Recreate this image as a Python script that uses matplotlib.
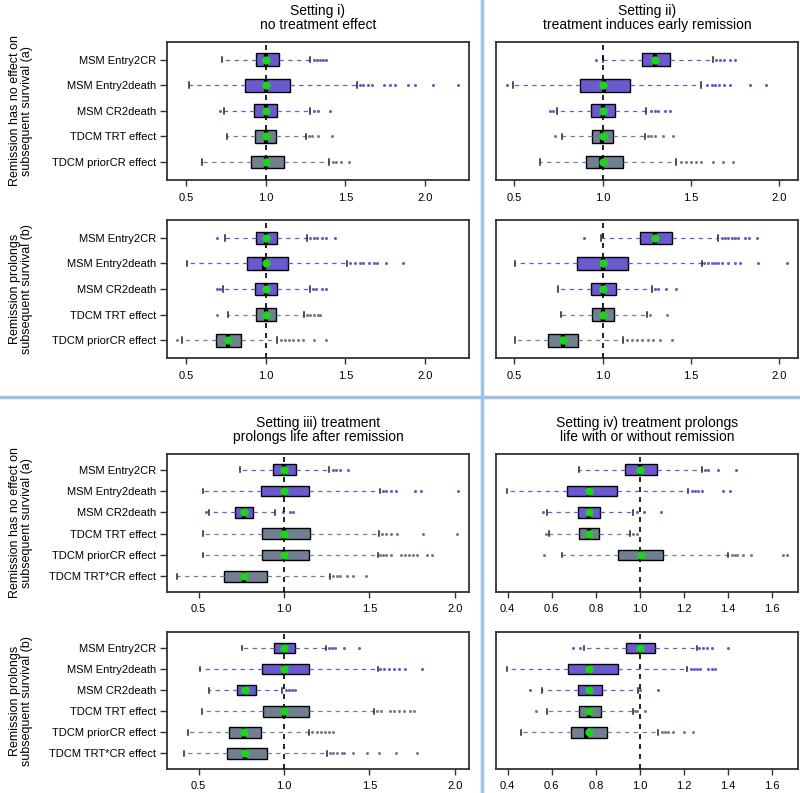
import matplotlib
matplotlib.use("Agg")
import matplotlib.pyplot as plt
from matplotlib.lines import Line2D

plt.rcParams['font.family'] = ['Liberation Sans', 'DejaVu Sans']

labels5 = ["MSM Entry2CR", "MSM Entry2death", "MSM CR2death",
           "TDCM TRT effect", "TDCM priorCR effect"]
labels6 = labels5 + ["TDCM TRT*CR effect"]
msm_flag = [True, True, True, False, False, False]

titles = ["Setting i)\nno treatment effect",
          "Setting ii)\ntreatment induces early remission",
          "Setting iii) treatment\nprolongs life after remission",
          "Setting iv) treatment prolongs\nlife with or without remission"]
row_labels = ["Remission has no effect on\nsubsequent survival (a)",
              "Remission prolongs\nsubsequent survival (b)"]

# (whisker low, q1, median, q3, whisker high) per estimate
s1a_box = [(0.723, 0.939, 1.00, 1.082, 1.275), (0.52, 0.87, 1.00, 1.153, 1.572),
           (0.738, 0.929, 1.00, 1.069, 1.279), (0.755, 0.935, 1.00, 1.065, 1.252),
           (0.597, 0.906, 1.00, 1.115, 1.40)]
s1a_mean = [1.0, 1.0, 1.0, 1.0, 1.0]
s1a_out = [[1.30, 1.32, 1.34, 1.36, 1.38],
           [1.59, 1.61, 1.64, 1.67, 1.74, 1.78, 1.81, 1.89, 1.94, 2.05, 2.21],
           [0.713, 1.30, 1.33, 1.405],
           [1.27, 1.29, 1.33, 1.415],
           [1.42, 1.44, 1.47, 1.52]]

s2a_box = [(1.0, 1.221, 1.296, 1.381, 1.626), (0.494, 0.875, 1.008, 1.155, 1.56),
           (0.743, 0.934, 1.0, 1.072, 1.249), (0.768, 0.942, 0.995, 1.062, 1.24),
           (0.645, 0.906, 0.99, 1.117, 1.419)]
s2a_mean = [1.30, 1.0, 1.0, 1.0, 1.004]
s2a_out = [[0.962, 1.645, 1.664, 1.69, 1.72, 1.75],
           [0.46, 1.59, 1.62, 1.64, 1.66, 1.69, 1.72, 1.834, 1.928],
           [0.70, 0.72, 1.277, 1.296, 1.315, 1.353, 1.381],
           [0.73, 1.258, 1.277, 1.296, 1.343, 1.40],
           [1.447, 1.475, 1.504, 1.532, 1.56, 1.626, 1.683, 1.74]]

s1b_box = [(0.746, 0.937, 1.0, 1.073, 1.258), (0.503, 0.88, 0.99, 1.14, 1.51),
           (0.73, 0.935, 1.0, 1.073, 1.275), (0.761, 0.941, 1.0, 1.063, 1.241),
           (0.472, 0.688, 0.763, 0.845, 1.073)]
s1b_mean = [1.0, 1.0, 1.0, 1.0, 0.765]
s1b_out = [[0.692, 1.279, 1.30, 1.321, 1.356, 1.377, 1.436],
           [1.53, 1.56, 1.59, 1.61, 1.65, 1.68, 1.70, 1.757, 1.862],
           [0.692, 0.713, 1.296, 1.314, 1.352, 1.377],
           [0.692, 1.258, 1.279, 1.30, 1.325, 1.342],
           [0.44, 1.094, 1.122, 1.147, 1.174, 1.2, 1.233, 1.304, 1.379]]

s2b_box = [(0.994, 1.212, 1.297, 1.392, 1.657), (0.502, 0.858, 1.0, 1.146, 1.5625),
           (0.748, 0.934, 1.0, 1.076, 1.278), (0.767, 0.941, 1.0, 1.066, 1.25),
           (0.502, 0.693, 0.773, 0.862, 1.114)]
s2b_mean = [1.297, 1.0, 1.0, 1.0, 0.773]
s2b_out = [[0.896, 1.676, 1.695, 1.714, 1.733, 1.752, 1.77, 1.81, 1.83, 1.875],
           [1.576, 1.60, 1.62, 1.64, 1.657, 1.676, 1.714, 1.752, 1.78, 1.879, 2.045],
           [1.297, 1.316, 1.358, 1.415],
           [1.269, 1.367],
           [1.136, 1.165, 1.193, 1.222, 1.26, 1.288, 1.326, 1.396]]

s3a_box = [(0.742, 0.9375, 1.0, 1.068, 1.266), (0.527, 0.867, 1.0, 1.148, 1.5625),
           (0.5625, 0.715, 0.766, 0.82, 0.949), (0.527, 0.871, 1.0, 1.152, 1.557),
           (0.527, 0.869, 1.0, 1.145, 1.549), (0.375, 0.646, 0.766, 0.898, 1.27)]
s3a_mean = [1.0, 1.0, 0.766, 1.0, 1.0, 0.766]
s3a_out = [[1.285, 1.305, 1.328, 1.373],
           [1.582, 1.60, 1.63, 1.656, 1.768, 1.80, 2.018],
           [0.543, 0.992, 1.033, 1.055],
           [1.576, 1.60, 1.63, 1.664, 1.816, 2.012],
           [1.5625, 1.582, 1.60, 1.63, 1.684, 1.709, 1.734, 1.758, 1.781, 1.836, 1.865],
           [1.289, 1.309, 1.328, 1.367, 1.406, 1.479]]

s3b_box = [(0.756, 0.943, 1.0, 1.066, 1.248), (0.508, 0.873, 1.0, 1.148, 1.551),
           (0.56, 0.723, 0.77, 0.834, 0.99), (0.521, 0.875, 1.0, 1.145, 1.527),
           (0.4375, 0.676, 0.766, 0.863, 1.146), (0.414, 0.666, 0.773, 0.902, 1.25)]
s3b_mean = [1.0, 1.0, 0.77, 1.0, 0.766, 0.773]
s3b_out = [[1.264, 1.283, 1.297, 1.352, 1.44],
           [1.5625, 1.586, 1.615, 1.645, 1.674, 1.707, 1.81],
           [1.01, 1.03, 1.05, 1.064],
           [1.547, 1.566, 1.621, 1.645, 1.674, 1.703, 1.738, 1.762],
           [1.166, 1.191, 1.215, 1.238, 1.264, 1.289],
           [1.27, 1.289, 1.309, 1.342, 1.352, 1.406, 1.484, 1.557, 1.654, 1.777]]

s4a_box = [(0.723, 0.934, 1.0, 1.076, 1.28), (0.395, 0.67, 0.77, 0.894, 1.219),
           (0.577, 0.72, 0.77, 0.819, 0.97), (0.587, 0.725, 0.77, 0.816, 0.955),
           (0.648, 0.902, 1.003, 1.106, 1.40)]
s4a_mean = [1.0, 0.77, 0.77, 0.77, 1.003]
s4a_out = [[1.295, 1.31, 1.355, 1.438],
           [1.234, 1.249, 1.264, 1.28, 1.378, 1.408],
           [0.562, 0.985, 1.018, 1.095],
           [0.572, 0.97, 0.985],
           [0.565, 1.416, 1.431, 1.441, 1.468, 1.506, 1.65, 1.665]]

s4b_box = [(0.746, 0.937, 1.0, 1.068, 1.257), (0.398, 0.675, 0.77, 0.899, 1.215),
           (0.554, 0.72, 0.77, 0.826, 0.992), (0.577, 0.725, 0.77, 0.823, 0.97),
           (0.46, 0.686, 0.754, 0.849, 1.083)]
s4b_mean = [1.0, 0.77, 0.77, 0.77, 0.77]
s4b_out = [[0.698, 0.728, 1.27, 1.287, 1.302, 1.325, 1.40],
           [1.23, 1.245, 1.257, 1.272, 1.31, 1.325, 1.34],
           [0.501, 1.0, 1.083],
           [0.527, 0.977, 0.988, 1.023],
           [1.098, 1.113, 1.128, 1.151, 1.2, 1.239]]

ticks_a = [0.5, 1.0, 1.5, 2.0]
ticks_iv = [0.4, 0.6, 0.8, 1.0, 1.2, 1.4, 1.6]

PURPLE = "#6A5ACD"
GREY = "#708090"
GREEN = "#1ED21E"


def draw_panel(ax, boxes, means, outs, nslots, xlim, xticks, labels):
    stats = []
    for (lo, q1, med, q3, hi), mu, fl in zip(boxes, means, outs):
        stats.append(dict(whislo=lo, q1=q1, med=med, q3=q3, whishi=hi,
                          mean=mu, fliers=fl))
    pos = [nslots - i for i in range(len(stats))]
    bp = ax.bxp(stats, positions=pos, widths=0.5, orientation='horizontal',
                patch_artist=True, showmeans=True, capwidths=0.22,
                manage_ticks=False,
                boxprops=dict(edgecolor='black', linewidth=1.0),
                whiskerprops=dict(linestyle=(0, (3.5, 3.5)), linewidth=0.9),
                capprops=dict(color='#222222', linewidth=1.1),
                medianprops=dict(color='black', linewidth=3, zorder=3),
                meanprops=dict(marker='o', markersize=5, markerfacecolor=GREEN,
                               markeredgecolor=GREEN, zorder=5),
                flierprops=dict(marker='o', markersize=2.2, markeredgewidth=0))
    for i in range(len(stats)):
        c = PURPLE if msm_flag[i] else GREY
        bp['boxes'][i].set_facecolor(c)
        bp['whiskers'][2 * i].set_color(c)
        bp['whiskers'][2 * i + 1].set_color(c)
        bp['fliers'][i].set_markerfacecolor(c)
    ax.axvline(1.0, color='black', linestyle=(0, (3, 3)), linewidth=1.2, zorder=4)
    ax.set_xlim(*xlim)
    ax.set_ylim(0.5 - 0.04 * nslots, nslots + 0.5 + 0.04 * nslots)
    ax.set_xticks(xticks)
    ax.set_xticklabels([f"{t:.1f}" for t in xticks])
    if labels is not None:
        ax.set_yticks(range(nslots, 0, -1))
        ax.set_yticklabels(labels)
    else:
        ax.set_yticks([])
    ax.tick_params(axis='both', labelsize=8, width=1, color='#333333')
    ax.tick_params(axis='x', length=4, pad=5)
    ax.tick_params(axis='y', length=5, pad=3)
    for s in ax.spines.values():
        s.set_linewidth(1.3)
        s.set_color('#333333')


fig = plt.figure(figsize=(8, 7.93), dpi=100)

left_x, right_x, w = 0.20875, 0.62, 0.3775
rows = [(0.7730, 0.1744), (0.5485, 0.1740), (0.2535, 0.1740), (0.0303, 0.1721)]

ax1a = fig.add_axes([left_x, rows[0][0], w, rows[0][1]])
ax2a = fig.add_axes([right_x, rows[0][0], w, rows[0][1]])
ax1b = fig.add_axes([left_x, rows[1][0], w, rows[1][1]])
ax2b = fig.add_axes([right_x, rows[1][0], w, rows[1][1]])
ax3a = fig.add_axes([left_x, rows[2][0], w, rows[2][1]])
ax4a = fig.add_axes([right_x, rows[2][0], w, rows[2][1]])
ax3b = fig.add_axes([left_x, rows[3][0], w, rows[3][1]])
ax4b = fig.add_axes([right_x, rows[3][0], w, rows[3][1]])

draw_panel(ax1a, s1a_box, s1a_mean, s1a_out, 5, (0.38, 2.276), ticks_a, labels5)
draw_panel(ax2a, s2a_box, s2a_mean, s2a_out, 5, (0.396, 2.108), ticks_a, None)
draw_panel(ax1b, s1b_box, s1b_mean, s1b_out, 5, (0.38, 2.276), ticks_a, labels5)
draw_panel(ax2b, s2b_box, s2b_mean, s2b_out, 5, (0.396, 2.108), ticks_a, None)
draw_panel(ax3a, s3a_box, s3a_mean, s3a_out, 6, (0.315, 2.084), ticks_a, labels6)
draw_panel(ax4a, s4a_box, s4a_mean, s4a_out, 6, (0.347, 1.717), ticks_iv, None)
draw_panel(ax3b, s3b_box, s3b_mean, s3b_out, 6, (0.315, 2.084), ticks_a, labels6)
draw_panel(ax4b, s4b_box, s4b_mean, s4b_out, 6, (0.347, 1.717), ticks_iv, None)

for ax, t in zip([ax1a, ax2a, ax3a, ax4a], titles):
    ax.set_title(t, fontsize=10, linespacing=1.0, pad=9)

for (b, h), lab in zip(rows, row_labels * 2):
    fig.text(0.026, b + h / 2, lab, rotation=90, ha='center', va='center',
             fontsize=9, linespacing=1.05)

# light blue separators between the four settings
fig.add_artist(Line2D([482 / 800, 482 / 800], [0, 1], transform=fig.transFigure,
                      color='#A2C2E8', linewidth=2.5))
fig.add_artist(Line2D([0, 1], [1 - 397 / 793, 1 - 397 / 793], transform=fig.transFigure,
                      color='#A2C2E8', linewidth=2.5))

fig.savefig("out.png", dpi=100)
